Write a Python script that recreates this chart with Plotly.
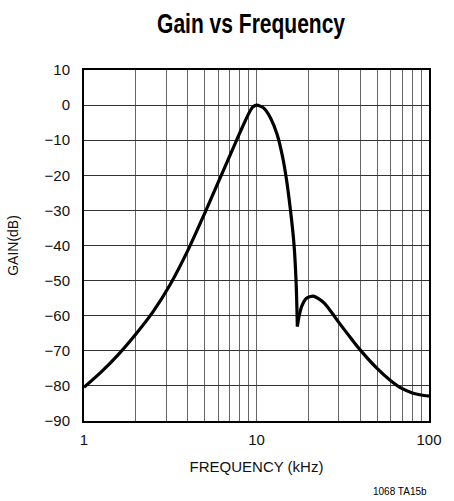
import plotly.graph_objects as go

# Gain curve (frequency in kHz, gain in dB)
freq_khz = [1, 1.26, 1.585, 2, 2.51, 3.16, 4, 5, 6.31, 7.08, 7.94, 8.51, 9.02, 9.5, 10,
            10.5, 11.1, 12.1, 13.2, 14.2, 14.9, 15.7, 16.2, 16.6, 17.0, 17.25,
            17.6, 18.25, 19.5, 21.3, 23, 24.8, 27, 30, 35, 40, 50, 60, 70, 80, 90, 100]
gain_db = [-80.4, -76.0, -71.0, -65.2, -58.9, -51.1, -41.4, -30.9, -19.5, -13.9, -8.3, -5.0, -2.4, -0.6, 0.0,
           -0.3, -1.0, -3.8, -8.5, -15.0, -21.0, -29.5, -35.5, -41.5, -51.5, -63.1,
           -60.5, -57.4, -55.0, -54.4, -55.2, -56.5, -58.8, -61.9, -66.2, -69.8, -75.0, -78.5,
           -80.8, -82.0, -82.6, -82.9]
notch_index = 25  # index of the notch minimum (17.25 kHz)

x_tickvals = [1, 2, 3, 4, 5, 6, 7, 8, 9, 10, 20, 30, 40, 50, 60, 70, 80, 90, 100]
x_ticktext = ["1", "", "", "", "", "", "", "", "", "10", "", "", "", "", "", "", "", "", "100"]
y_tickvals = [10, 0, -10, -20, -30, -40, -50, -60, -70, -80, -90]

fig = go.Figure()
line_style = dict(color="black", width=3.2, shape="spline", smoothing=0.7)
fig.add_trace(go.Scatter(x=freq_khz[:notch_index + 1], y=gain_db[:notch_index + 1], mode="lines",
                         line=line_style, showlegend=False, hoverinfo="skip"))
fig.add_trace(go.Scatter(x=freq_khz[notch_index:], y=gain_db[notch_index:], mode="lines",
                         line=line_style, showlegend=False, hoverinfo="skip"))

font_main = "Liberation Sans, Arial, sans-serif"
fig.update_layout(
    width=454, height=501,
    margin=dict(l=78, r=24, t=70, b=80),
    paper_bgcolor="white", plot_bgcolor="white",
    title=dict(text="<b>Gain vs Frequency</b>", x=0.553, xref="container", xanchor="center",
               y=0.952, yref="container", yanchor="middle",
               font=dict(family=font_main, size=27, color="black")),
    font=dict(family=font_main, size=15, color="#111"),
)
fig.update_xaxes(type="log", range=[0, 2], tickvals=x_tickvals, ticktext=x_ticktext,
                 showgrid=True, gridcolor="#666", gridwidth=1,
                 showline=True, linecolor="black", linewidth=2, mirror=True,
                 ticks="", zeroline=False, ticklabelstandoff=4,
                 title=dict(text="FREQUENCY (kHz)", font=dict(size=15), standoff=14))
fig.update_yaxes(range=[-90, 10], tickvals=y_tickvals,
                 showgrid=True, gridcolor="#333", gridwidth=1,
                 showline=True, linecolor="black", linewidth=2, mirror=True,
                 ticks="", zeroline=False, ticklabelstandoff=9,
                 title=dict(text="GAIN(dB)", font=dict(size=14), standoff=23))
fig.add_annotation(text="1068 TA15b", xref="paper", yref="paper", x=1.0, y=-0.201,
                   xanchor="right", yanchor="middle", showarrow=False,
                   font=dict(family=font_main, size=10, color="black"))

post = """
document.body.style.margin = '0';
function condenseTitle() {
  var els = document.querySelectorAll('.gtitle');
  els.forEach(function (el) {
    el.setAttribute('textLength', '188');
    el.setAttribute('lengthAdjust', 'spacingAndGlyphs');
  });
}
condenseTitle();
setTimeout(condenseTitle, 30);
setTimeout(condenseTitle, 200);
"""
fig.write_html("out.html", post_script=post, config={"displayModeBar": False})
